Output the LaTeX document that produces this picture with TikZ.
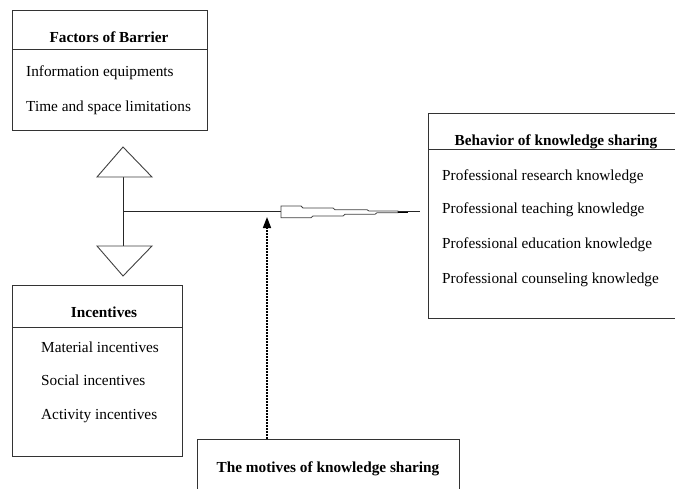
\documentclass[tikz,border=0pt]{standalone}
\usepackage{fontspec}
\setmainfont{Liberation Serif}
\usetikzlibrary{arrows.meta}
\tikzset{
  frame/.style={draw=black!80, line width=1pt},
  ttl/.style={anchor=base, font=\fontsize{15.3}{17}\selectfont\bfseries, inner sep=0pt},
  itm/.style={anchor=base west, font=\fontsize{15.3}{17}\selectfont, inner sep=0pt},
  conn/.style={draw=black!85, line width=1pt},
  tri/.style={draw=black!75, line width=0.9pt, fill=white},
}
\begin{document}
\begin{tikzpicture}[x=1pt,y=-1pt]
\useasboundingbox (0,0) rectangle (675,488);
\clip (0,0) rectangle (675,488);
% Factors of Barrier
\node[frame, rectangle, anchor=north west, minimum width=195pt, minimum height=120pt, inner sep=0pt] (fb) at (12,10) {};
\draw[frame] (12,49) -- (207,49);
\node[ttl] (fbt) at (109,42) {Factors of Barrier};
\node[itm] (fb1) at (26,76) {Information equipments};
\node[itm] (fb2) at (26,111) {Time and space limitations};
% Behavior of knowledge sharing
\node[frame, rectangle, anchor=north west, minimum width=260pt, minimum height=205pt, inner sep=0pt] (bk) at (428,113) {};
\draw[frame] (428,149) -- (690,149);
\node[ttl] (bkt) at (556,145) {Behavior of knowledge sharing};
\node[itm] (bk1) at (442,180) {Professional research knowledge};
\node[itm] (bk2) at (442,213) {Professional teaching knowledge};
\node[itm] (bk3) at (442,248) {Professional education knowledge};
\node[itm] (bk4) at (442,283) {Professional counseling knowledge};
% Incentives
\node[frame, rectangle, anchor=north west, minimum width=170pt, minimum height=171pt, inner sep=0pt] (in) at (12,285) {};
\draw[frame] (12,327) -- (182,327);
\node[ttl] (int) at (104,317) {Incentives};
\node[itm] (in1) at (41,352) {Material incentives};
\node[itm] (in2) at (41,385) {Social incentives};
\node[itm] (in3) at (41,419) {Activity incentives};
% Motives
\node[frame, rectangle, anchor=north west, minimum width=262pt, minimum height=70pt, inner sep=0pt] (mo) at (197,439) {};
\node[ttl] (mot) at (328,472) {The motives of knowledge sharing};
% triangles and connectors
\coordinate (ut) at (123,177);
\coordinate (lt) at (123,246);
\coordinate (jn) at (123,211);
\coordinate (tp) at (281,211);
\coordinate (ar) at (267,217);
\draw[conn] (ut) -- (lt);
\draw[tri] (97,177) -- (123,147) -- (152,177) -- cycle;
\draw[tri] (97,246) -- (152,246) -- (123,276) -- cycle;
\draw[conn] (jn) -- (tp);
% taper
\draw[draw=black!75, line width=0.8pt, fill=white]
  (281,206) -- (301,206) -- (303,208) -- (333,208) -- (335,209.7) -- (367,209.7) -- (369,211) -- (398,211)
  -- (398,212.7) -- (377,212.7) -- (375,214.3) -- (345,214.3) -- (343,216) -- (313,216) -- (311,217.7) -- (281,217.7) -- cycle;
\fill[black] (398,211) rectangle (408,213);
\draw[conn] (398,211.8) -- (420,211.8);
% dotted arrow
\draw[black, line width=1.6pt, dash pattern=on 1.6pt off 1.4pt, -{Triangle[width=8pt,length=11pt]}] (mo.north -| ar) -- (ar);
\end{tikzpicture}
\end{document}
